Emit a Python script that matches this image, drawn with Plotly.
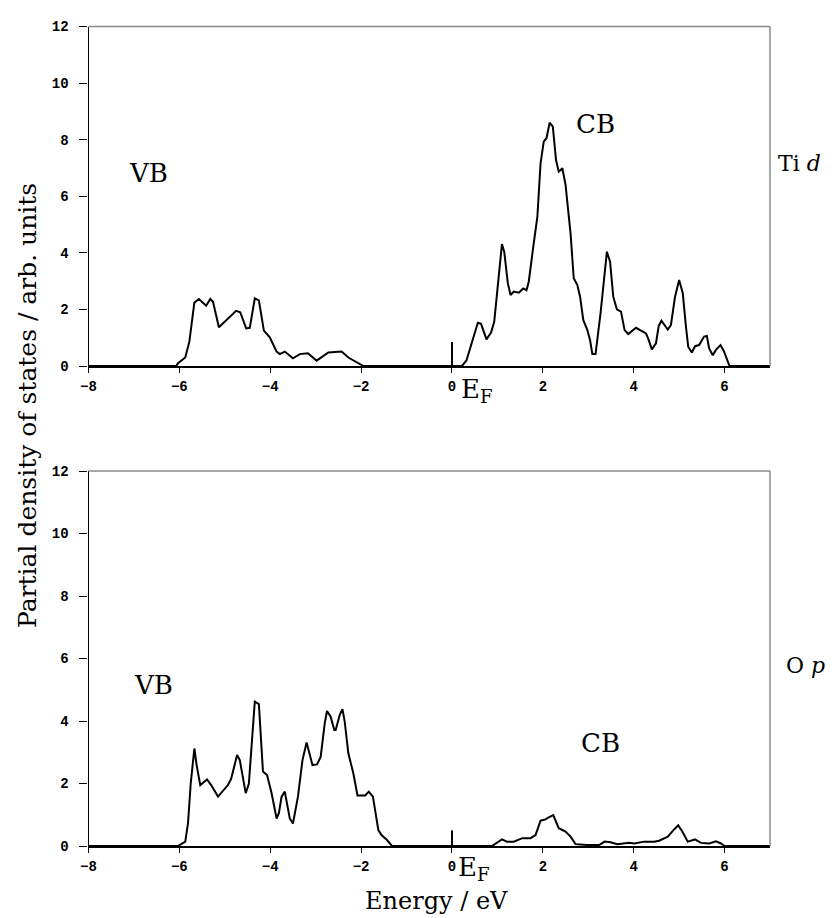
import plotly.graph_objects as go

# ---------------- data ----------------
ti_energy = [-8, -6.07, -6.03, -5.87, -5.78, -5.67, -5.57, -5.41, -5.32, -5.26, -5.13, -4.75, -4.66, -4.53,
             -4.45, -4.34, -4.25, -4.14, -4.01, -3.86, -3.79, -3.68, -3.50, -3.35, -3.17, -2.98, -2.72, -2.43,
             -2.28, -2.10, -1.95, 0.22, 0.32, 0.57, 0.64, 0.76, 0.86, 0.93, 1.03, 1.10, 1.15, 1.23, 1.29, 1.36,
             1.47, 1.57, 1.64, 1.69, 1.79, 1.88, 1.95, 2.02, 2.08, 2.15, 2.22, 2.29, 2.35, 2.43, 2.50, 2.61,
             2.68, 2.76, 2.82, 2.89, 2.98, 3.04, 3.09, 3.16, 3.27, 3.35, 3.41, 3.48, 3.55, 3.63, 3.72, 3.80,
             3.88, 4.05, 4.16, 4.27, 4.32, 4.40, 4.49, 4.55, 4.61, 4.75, 4.82, 4.91, 5.00, 5.08, 5.15, 5.20,
             5.28, 5.35, 5.44, 5.55, 5.61, 5.66, 5.74, 5.81, 5.91, 5.98, 6.11, 7]
ti_dos = [0, 0, 0.10, 0.30, 0.86, 2.24, 2.37, 2.13, 2.37, 2.27, 1.37, 1.95, 1.90, 1.33,
          1.35, 2.39, 2.32, 1.25, 1.01, 0.51, 0.42, 0.51, 0.27, 0.42, 0.45, 0.19, 0.48, 0.51,
          0.30, 0.15, 0.0, 0, 0.20, 1.53, 1.49, 0.94, 1.18, 1.56, 3.27, 4.31, 4.04, 2.92, 2.51, 2.63,
          2.59, 2.74, 2.68, 2.98, 4.22, 5.28, 7.16, 7.93, 8.05, 8.60, 8.46, 7.28, 6.87, 6.99, 6.40, 4.69,
          3.10, 2.86, 2.45, 1.63, 1.27, 0.91, 0.42, 0.42, 1.86, 3.04, 4.04, 3.69, 2.45, 2.00, 1.92, 1.27,
          1.13, 1.35, 1.25, 1.15, 0.97, 0.59, 0.80, 1.41, 1.60, 1.29, 1.45, 2.45, 3.04, 2.57, 1.39, 0.68,
          0.48, 0.70, 0.74, 1.04, 1.06, 0.62, 0.38, 0.57, 0.74, 0.54, 0.0, 0]

o_energy = [-8, -6.03, -5.87, -5.81, -5.75, -5.67, -5.62, -5.54, -5.39, -5.30, -5.15, -5.06, -4.93, -4.86,
            -4.73, -4.67, -4.54, -4.47, -4.42, -4.34, -4.25, -4.16, -4.07, -3.97, -3.86, -3.81, -3.75, -3.68,
            -3.57, -3.50, -3.39, -3.29, -3.20, -3.07, -2.97, -2.89, -2.80, -2.75, -2.67, -2.59, -2.56, -2.47,
            -2.41, -2.36, -2.28, -2.17, -2.08, -1.91, -1.83, -1.74, -1.62, -1.55, -1.43, -1.32, 0.88, 0.99,
            1.10, 1.21, 1.36, 1.55, 1.73, 1.84, 1.95, 2.06, 2.13, 2.23, 2.35, 2.50, 2.61, 2.72, 2.98, 3.24,
            3.36, 3.49, 3.64, 3.90, 4.01, 4.23, 4.45, 4.56, 4.75, 4.89, 4.98, 5.06, 5.19, 5.35, 5.48, 5.66,
            5.81, 5.92, 6.0, 7]
o_dos = [0, 0, 0.14, 0.72, 2.00, 3.12, 2.59, 1.95, 2.13, 1.95, 1.58, 1.74, 1.95, 2.15,
         2.91, 2.75, 1.69, 2.00, 2.96, 4.62, 4.54, 2.38, 2.27, 1.69, 0.88, 1.05, 1.58, 1.74,
         0.88, 0.72, 1.58, 2.75, 3.31, 2.59, 2.61, 2.85, 3.93, 4.32, 4.14, 3.71, 3.71, 4.20,
         4.38, 3.97, 2.96, 2.32, 1.62, 1.62, 1.74, 1.58, 0.51, 0.35, 0.19, 0.0, 0, 0.10,
         0.21, 0.14, 0.14, 0.25, 0.25, 0.35, 0.81, 0.85, 0.92, 0.99, 0.57, 0.46, 0.30, 0.06, 0.03, 0.03,
         0.14, 0.12, 0.06, 0.10, 0.08, 0.14, 0.14, 0.17, 0.30, 0.53, 0.66, 0.49, 0.14, 0.21, 0.10, 0.08,
         0.15, 0.08, 0.0, 0]

x_ticks = [-8, -6, -4, -2, 0, 2, 4, 6]
y_ticks = [0, 2, 4, 6, 8, 10, 12]
fermi_marker_top = 0.85
fermi_marker_bottom = 0.5

# ---------------- figure ----------------
# The page body has an 8px margin, so the figure is 8px smaller and
# reference pixel positions are shifted by OFF.
OFF = 8
W, H = 834 - OFF, 918 - OFF
SERIF = "DejaVu Serif"
MONO = "Liberation Mono"


def px(xr):
    return (xr - OFF) / W


def py(yr):
    return 1 - (yr - OFF) / H


fig = go.Figure()
fig.add_trace(go.Scatter(x=ti_energy, y=ti_dos, mode="lines", xaxis="x", yaxis="y",
                         line=dict(color="black", width=2), showlegend=False, hoverinfo="skip"))
fig.add_trace(go.Scatter(x=o_energy, y=o_dos, mode="lines", xaxis="x2", yaxis="y2",
                         line=dict(color="black", width=2), showlegend=False, hoverinfo="skip"))

xdom = [px(88.5), px(770)]
top_dom = [py(366), py(26.5)]
bot_dom = [py(846), py(471)]

tickfont = dict(family=MONO, size=14, color="black", weight="bold")


def xax(anchor):
    return dict(domain=xdom, range=[-8, 7], anchor=anchor, tickvals=x_ticks,
                ticks="outside", ticklen=5, tickwidth=1.2, tickcolor="black",
                showline=True, linecolor="black", linewidth=1.5,
                showgrid=False, zeroline=False, tickfont=tickfont, automargin=False,
                ticklabelstandoff=1)


def yax(dom, anchor):
    return dict(domain=dom, range=[0, 12], anchor=anchor, tickvals=y_ticks,
                ticks="outside", ticklen=8, tickwidth=1.2, tickcolor="black",
                showline=True, linecolor="black", linewidth=1.2,
                showgrid=False, zeroline=False, tickfont=tickfont, automargin=False,
                ticklabelstandoff=8)


fig.update_layout(
    width=W, height=H,
    margin=dict(l=0, r=0, t=0, b=0),
    paper_bgcolor="white", plot_bgcolor="white",
    xaxis=xax("y"), yaxis=yax(top_dom, "x"),
    xaxis2=xax("y2"), yaxis2=yax(bot_dom, "x2"),
)

shapes = []
for xr, yr, fm in (("x", "y", fermi_marker_top), ("x2", "y2", fermi_marker_bottom)):
    shapes.append(dict(type="line", xref=xr + " domain", yref=yr + " domain", x0=0, x1=1, y0=1, y1=1,
                       line=dict(color="#8a8a8a", width=1.5)))
    shapes.append(dict(type="line", xref=xr + " domain", yref=yr + " domain", x0=1, x1=1, y0=0, y1=1,
                       line=dict(color="#8a8a8a", width=1.5)))
    shapes.append(dict(type="line", xref=xr, yref=yr, x0=0, x1=0, y0=0, y1=fm,
                       line=dict(color="black", width=2)))
fig.update_layout(shapes=shapes)

lab = dict(family=SERIF, size=26, color="black")
side = dict(family=SERIF, size=22, color="black")
ann = [
    dict(text="VB", x=-6.69, y=6.82, xref="x", yref="y", showarrow=False, font=lab),
    dict(text="CB", x=3.16, y=8.55, xref="x", yref="y", showarrow=False, font=lab),
    dict(text="VB", x=-6.57, y=5.15, xref="x2", yref="y2", showarrow=False, font=lab),
    dict(text="CB", x=3.27, y=3.3, xref="x2", yref="y2", showarrow=False, font=lab),
    dict(text="E<sub>F</sub>", x=px(459), y=py(372), xref="paper", yref="paper",
         xanchor="left", yanchor="top", showarrow=False, font=lab),
    dict(text="E<sub>F</sub>", x=px(456), y=py(850), xref="paper", yref="paper",
         xanchor="left", yanchor="top", showarrow=False, font=lab),
    dict(text="Ti <i>d</i>", x=px(776), y=py(163), xref="paper", yref="paper",
         xanchor="left", yanchor="middle", showarrow=False, font=side),
    dict(text="O <i>p</i>", x=px(784), y=py(665), xref="paper", yref="paper",
         xanchor="left", yanchor="middle", showarrow=False, font=side),
    dict(text="Energy / eV", x=px(436), y=py(901), xref="paper", yref="paper",
         xanchor="center", yanchor="middle", showarrow=False,
         font=dict(family=SERIF, size=24, color="black")),
    dict(text="Partial density of states / arb. units", x=px(27), y=py(406),
         xref="paper", yref="paper", xanchor="center", yanchor="middle", textangle=-90,
         showarrow=False, font=dict(family=SERIF, size=25, color="black")),
]
fig.update_layout(annotations=ann)

fig.write_html("out.html")
